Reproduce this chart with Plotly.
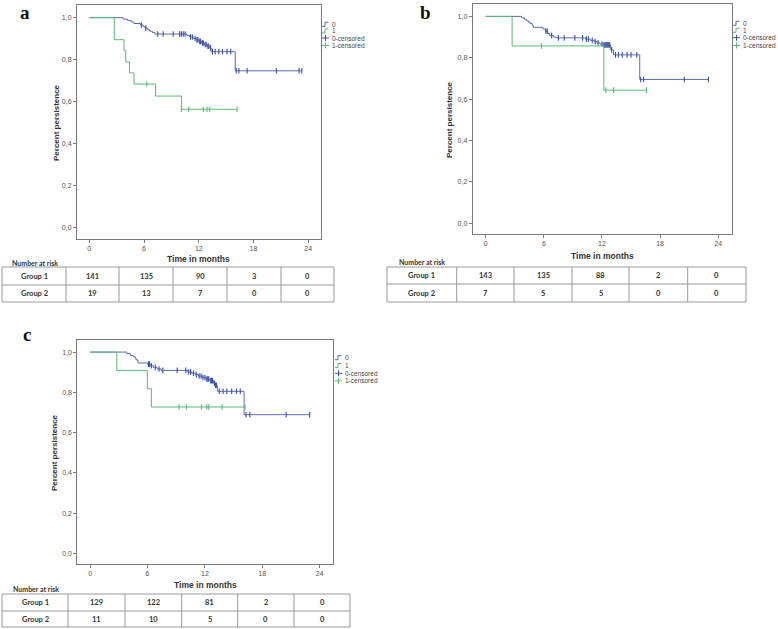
import numpy as np
import plotly.graph_objects as go

W, H = 778, 629

# ---------------- DATA ----------------
# Panel a
a_g1_t = [0, 3.7, 4.2, 4.6, 4.9, 5.6, 5.9, 6.1, 6.4, 6.6, 6.9, 7.2, 10.7, 11.0, 11.4, 11.7, 12.0, 12.3, 12.6, 12.9, 13.2, 13.35, 16.0, 23.3]
a_g1_s = [1.0, 0.993, 0.986, 0.979, 0.972, 0.965, 0.958, 0.950, 0.943, 0.936, 0.929, 0.922, 0.915, 0.908, 0.901, 0.894, 0.887, 0.879, 0.872, 0.864, 0.856, 0.838, 0.747, 0.747]
a_g1_c = [5.7, 6.2, 7.5, 8.1, 9.2, 9.9, 10.1, 10.3, 10.5, 11.1, 11.3, 11.6, 11.8, 11.9, 12.1, 12.2, 12.4, 12.5, 12.7, 12.8, 13.0, 13.1, 13.3,
          13.5, 13.8, 14.2, 14.6, 15.1, 15.5, 16.1, 16.4, 17.3, 20.5, 23.0, 23.3]
a_g2_t = [0, 2.74, 3.8, 4.0, 4.4, 4.9, 7.26, 10.1, 16.2]
a_g2_s = [1.0, 0.895, 0.842, 0.789, 0.737, 0.684, 0.627, 0.564, 0.564]
a_g2_c = [6.3, 10.1, 10.9, 12.5, 12.9, 13.2, 16.2]

# Panel b
b_g1_t = [0, 3.7, 4.0, 4.2, 4.4, 4.6, 4.8, 4.9, 5.9, 6.2, 6.4, 6.6, 7.0, 7.3, 10.3, 10.8, 11.2, 11.5, 11.8, 12.1, 12.9, 13.2, 15.9, 23.0]
b_g1_s = [1.0, 0.993, 0.986, 0.979, 0.972, 0.965, 0.958, 0.947, 0.939, 0.928, 0.917, 0.907, 0.900, 0.896, 0.890, 0.884, 0.878, 0.872, 0.866, 0.862, 0.838, 0.814, 0.695, 0.695]
b_g1_c = [6.2, 6.35, 6.8, 7.5, 8.1, 9.2, 10.0, 10.4, 10.6, 11.0, 11.3, 11.6, 12.0, 12.2, 12.3, 12.4, 12.5, 12.6, 12.7, 12.8, 13.0,
          13.4, 13.7, 14.1, 14.6, 15.0, 15.6, 16.0, 16.3, 20.5, 23.0]
b_g2_t = [0, 2.72, 12.2, 16.6]
b_g2_s = [1.0, 0.857, 0.643, 0.643]
b_g2_c = [5.75, 12.4, 13.2, 16.6]

# Panel c
c_g1_t = [0, 3.83, 4.2, 4.5, 4.7, 4.8, 5.0, 6.0, 6.3, 6.6, 7.0, 7.4, 10.2, 10.6, 11.0, 11.3, 11.7, 12.1, 12.5, 12.9, 13.1, 13.3, 16.1, 22.96]
c_g1_s = [1.0, 0.992, 0.984, 0.977, 0.969, 0.961, 0.946, 0.940, 0.932, 0.924, 0.916, 0.909, 0.901, 0.895, 0.888, 0.881, 0.874, 0.866, 0.858, 0.845, 0.835, 0.805, 0.689, 0.689]
c_g1_c = [6.1, 6.2, 6.4, 6.8, 7.2, 7.6, 9.1, 10.0, 10.3, 10.5, 10.8, 11.1, 11.4, 11.6, 11.8, 12.0, 12.2, 12.3, 12.4, 12.6, 12.7, 12.8,
          13.0, 13.1, 13.2, 13.5, 13.9, 14.3, 14.8, 15.3, 15.7, 16.3, 16.7, 20.5, 22.96]
c_g2_t = [0, 2.78, 5.98, 6.4, 16.2]
c_g2_s = [1.0, 0.909, 0.818, 0.727, 0.727]
c_g2_c = [9.3, 10.05, 11.65, 12.2, 12.4, 13.8, 16.2]

# Numbers at risk
risk_rows = ["Group 1", "Group 2"]
a_risk_g1 = [141, 135, 90, 3, 0]
a_risk_g2 = [19, 13, 7, 0, 0]
b_risk_g1 = [143, 135, 88, 2, 0]
b_risk_g2 = [7, 5, 5, 0, 0]
c_risk_g1 = [129, 122, 81, 2, 0]
c_risk_g2 = [11, 10, 5, 0, 0]

x_ticks = [0, 6, 12, 18, 24]
y_ticks = [0.0, 0.2, 0.4, 0.6, 0.8, 1.0]
legend_labels = ["0", "1", "0-censored", "1-censored"]
panel_letters = ["a", "b", "c"]

# ---------------- STYLE ----------------
BLUE_LINE = "#5b6db0"
BLUE_MARK = "#3c51a6"
GREEN = "#5cb978"
FRAME = "#7a7a7a"
TXT = "#333333"


def px(x):
    return x / W


def py(y):
    return 1 - y / H


def surv_at(times, survs, ts):
    times = np.asarray(times)
    survs = np.asarray(survs)
    idx = np.searchsorted(times, np.asarray(ts), side="right") - 1
    return survs[idx]


panels = [
    dict(letter=panel_letters[0], g1=(a_g1_t, a_g1_s, a_g1_c), g2=(a_g2_t, a_g2_s, a_g2_c),
         risk=(a_risk_g1, a_risk_g2),
         frame=(77, 321, 5, 239), letter_pos=(25, 0.5),
         ytitle=(57, 123), xtitle=(199, 259), nar=(10, 263),
         legend=(322, [24.3, 31.0, 38.0, 45.5]),
         table=([2, 66, 119, 173, 227, 281, 334], [267, 285, 302])),
    dict(letter=panel_letters[1], g1=(b_g1_t, b_g1_s, b_g1_c), g2=(b_g2_t, b_g2_s, b_g2_c),
         risk=(b_risk_g1, b_risk_g2),
         frame=(472.7, 731.7, 4, 234), letter_pos=(425, 0.5),
         ytitle=(450, 120), xtitle=(602, 256), nar=(397, 262),
         legend=(733, [23.3, 30.3, 37.7, 45.5]),
         table=([387, 456.7, 514, 572, 629, 687.7, 746], [267, 284, 302])),
    dict(letter=panel_letters[2], g1=(c_g1_t, c_g1_s, c_g1_c), g2=(c_g2_t, c_g2_s, c_g2_c),
         risk=(c_risk_g1, c_risk_g2),
         frame=(77.3, 333, 340, 564), letter_pos=(27, 322),
         ytitle=(54, 453), xtitle=(205, 585), nar=(11, 589),
         legend=(335, [357.7, 365.5, 373.3, 380.9]),
         table=([2, 68, 125, 181.7, 237.7, 294, 350], [594, 611, 627])),
]

fig = go.Figure()
shapes = []
annotations = []
layout_axes = {}

for i, p in enumerate(panels):
    n = "" if i == 0 else str(i + 1)
    xa, ya = "x" + n, "y" + n
    l, r, t, b = p["frame"]
    layout_axes["xaxis" + n] = dict(
        domain=[px(l), px(r)], anchor=ya, range=[-1.35, 25.4],
        tickvals=x_ticks, ticktext=[str(v) for v in x_ticks],
        ticks="outside", ticklen=3, tickcolor=FRAME, showgrid=False, zeroline=False,
        showline=True, mirror=True, linecolor=FRAME, linewidth=1,
        tickfont=dict(family="Liberation Sans", size=7, color="#555555"),
    )
    layout_axes["yaxis" + n] = dict(
        domain=[py(b), py(t)], anchor=xa, range=[-0.053, 1.06],
        tickvals=y_ticks, ticktext=[("%.1f" % v).replace(".", ",") for v in y_ticks],
        ticks="outside", ticklen=3, tickcolor=FRAME, showgrid=False, zeroline=False,
        showline=True, mirror=True, linecolor=FRAME, linewidth=1,
        tickfont=dict(family="Liberation Sans", size=7, color="#555555"),
    )
    for (tt, ss, cc), lc, mc in [(p["g1"], BLUE_LINE, BLUE_MARK), (p["g2"], GREEN, GREEN)]:
        fig.add_trace(go.Scatter(x=tt, y=ss, mode="lines", line=dict(color=lc, width=1, shape="hv"),
                                 xaxis=xa, yaxis=ya, showlegend=False, hoverinfo="skip"))
        fig.add_trace(go.Scatter(x=cc, y=surv_at(tt, ss, cc), mode="markers",
                                 marker=dict(symbol="line-ns", size=4, line=dict(color=mc, width=1.1)),
                                 xaxis=xa, yaxis=ya, showlegend=False, hoverinfo="skip"))

    # panel letter
    lx, ly = p["letter_pos"]
    annotations.append(dict(text="<b>%s</b>" % p["letter"], x=px(lx), y=py(ly), xref="paper", yref="paper",
                            showarrow=False, xanchor="center", yanchor="top",
                            font=dict(family="Liberation Serif", size=19, color="#111111")))
    # axis titles
    yx, yy = p["ytitle"]
    annotations.append(dict(text="<b>Percent persistence</b>", x=px(yx), y=py(yy), xref="paper", yref="paper",
                            showarrow=False, textangle=-90, xanchor="center", yanchor="middle",
                            font=dict(family="Liberation Sans", size=8, color=TXT)))
    tx, ty = p["xtitle"]
    annotations.append(dict(text="<b>Time in months</b>", x=px(tx), y=py(ty), xref="paper", yref="paper",
                            showarrow=False, xanchor="center", yanchor="middle",
                            font=dict(family="Liberation Sans", size=8.5, color=TXT)))
    nx, ny = p["nar"]
    annotations.append(dict(text="<b>Number at risk</b>", x=px(nx), y=py(ny), xref="paper", yref="paper",
                            showarrow=False, xanchor="left", yanchor="middle",
                            font=dict(family="Lato", size=7, color=TXT)))

    # legend (manual)
    gx, gys = p["legend"]
    colors = [BLUE_LINE, GREEN, BLUE_MARK, GREEN]
    for k, (lab, col, gy) in enumerate(zip(legend_labels, colors, gys)):
        if k < 2:
            path = "M %f,%f L %f,%f L %f,%f L %f,%f" % (px(gx), py(gy + 2), px(gx + 3), py(gy + 2),
                                                        px(gx + 3), py(gy - 2), px(gx + 6.5), py(gy - 2))
            shapes.append(dict(type="path", path=path, xref="paper", yref="paper",
                               line=dict(color=col, width=1)))
        else:
            shapes.append(dict(type="line", x0=px(gx), x1=px(gx + 7), y0=py(gy), y1=py(gy),
                               xref="paper", yref="paper", line=dict(color=col, width=1)))
            shapes.append(dict(type="line", x0=px(gx + 3.5), x1=px(gx + 3.5), y0=py(gy - 3), y1=py(gy + 3),
                               xref="paper", yref="paper", line=dict(color=col, width=1)))
        annotations.append(dict(text=lab, x=px(gx + 7.5), y=py(gy), xref="paper", yref="paper",
                                showarrow=False, xanchor="left", yanchor="middle",
                                font=dict(family="Liberation Sans", size=6.5, color="#444444")))

    # risk table
    cols, rows = p["table"]
    shapes.append(dict(type="rect", x0=px(cols[0]), x1=px(cols[-1]), y0=py(rows[0]), y1=py(rows[-1]),
                       xref="paper", yref="paper", line=dict(color="#999999", width=1)))
    for cx in cols[1:-1]:
        shapes.append(dict(type="line", x0=px(cx), x1=px(cx), y0=py(rows[0]), y1=py(rows[-1]),
                           xref="paper", yref="paper", line=dict(color="#999999", width=1)))
    shapes.append(dict(type="line", x0=px(cols[0]), x1=px(cols[-1]), y0=py(rows[1]), y1=py(rows[1]),
                       xref="paper", yref="paper", line=dict(color="#999999", width=1)))
    for ri, (rlab, vals) in enumerate(zip(risk_rows, p["risk"])):
        yc = (rows[ri] + rows[ri + 1]) / 2
        cells = [rlab] + [str(v) for v in vals]
        for ci, txt in enumerate(cells):
            xc = (cols[ci] + cols[ci + 1]) / 2
            annotations.append(dict(text="<b>%s</b>" % txt, x=px(xc), y=py(yc), xref="paper", yref="paper",
                                    showarrow=False, xanchor="center", yanchor="middle",
                                    font=dict(family="Lato", size=7.5, color=TXT)))

fig.update_layout(
    width=W, height=H, margin=dict(l=0, r=0, t=0, b=0),
    paper_bgcolor="white", plot_bgcolor="white",
    shapes=shapes, annotations=annotations, showlegend=False,
    **layout_axes,
)

fig.write_html("out.html", config={"displayModeBar": False},
               post_script="document.body.style.margin='0';document.body.style.overflow='hidden';")
